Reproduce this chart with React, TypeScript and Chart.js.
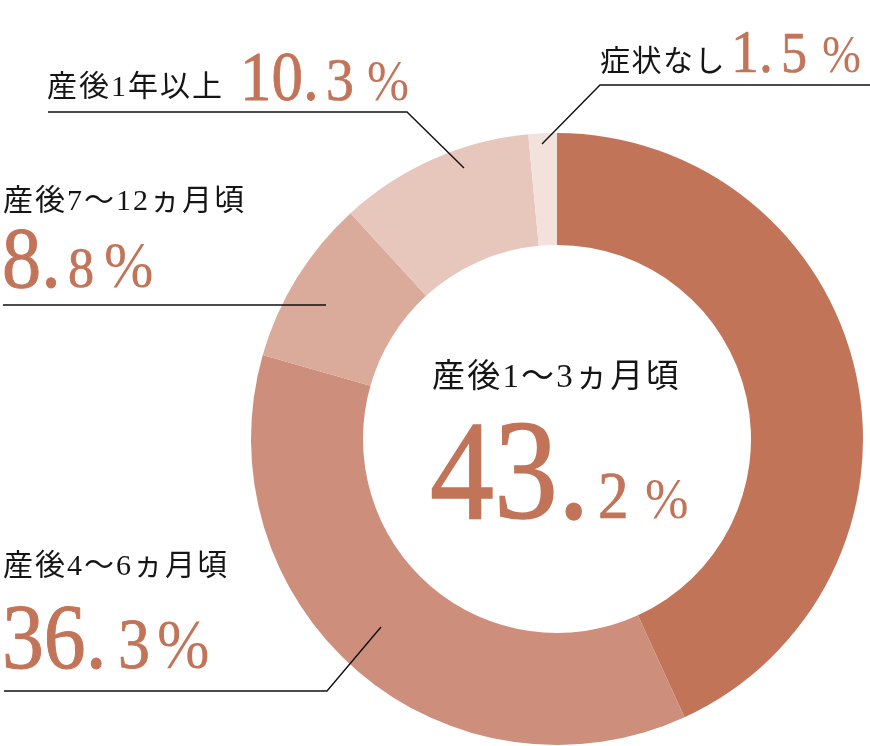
import React, { useEffect, useRef } from "react";
import { Chart, registerables } from "chart.js";

Chart.register(...registerables);

const categories = ["産後1〜3ヵ月頃", "産後4〜6ヵ月頃", "産後7〜12ヵ月頃", "産後1年以上", "症状なし"];
const percentages = [43.2, 36.3, 8.8, 10.3, 1.5];
const sliceColors = ["#c27459", "#cd8e7b", "#daab9b", "#e7c6bb", "#f3e2dc"];

const W = 870;
const H = 746;
const ACCENT = "#c27459";
const INK = "#151515";
const LABEL_FONT = "'Liberation Serif', 'Noto Sans CJK JP', serif";
const NUM_FONT = "'Liberation Serif', serif";

function splitNum(v: number): [string, string] {
  const s = v.toFixed(1);
  const [a, b] = s.split(".");
  return [a + ".", b];
}

type PieceProps = { x: number; y: number; size: number; text: string; sx?: number; thin?: boolean };
function Num({ x, y, size, text, sx = 0.9, thin = false }: PieceProps) {
  return (
    <text
      transform={`translate(${x},${y}) scale(${sx},1)`}
      fontFamily={NUM_FONT}
      fontSize={size}
      fill={ACCENT}
      stroke={thin ? "none" : ACCENT}
      strokeWidth={thin ? 0 : size * 0.011}
    >
      {text}
    </text>
  );
}

function Label({ x, y, size, text, ls = 1.5 }: { x: number; y: number; size: number; text: string; ls?: number }) {
  return (
    <text x={x} y={y} fontFamily={LABEL_FONT} fontSize={size} fill={INK} letterSpacing={ls}>
      {text}
    </text>
  );
}

export default function App() {
  const ref = useRef<HTMLCanvasElement | null>(null);

  useEffect(() => {
    if (!ref.current) return;
    const chart = new Chart(ref.current, {
      type: "doughnut",
      data: {
        labels: categories,
        datasets: [
          {
            data: percentages,
            backgroundColor: sliceColors,
            borderWidth: 0,
          },
        ],
      },
      options: {
        responsive: false,
        animation: false,
        cutout: "63.4%",
        rotation: 0,
        layout: { padding: { left: 251, right: 7, top: 133, bottom: 1 } },
        plugins: { legend: { display: false }, tooltip: { enabled: false } },
      },
    });
    return () => chart.destroy();
  }, []);

  const n0 = splitNum(percentages[0]);
  const n1 = splitNum(percentages[1]);
  const n2 = splitNum(percentages[2]);
  const n3 = splitNum(percentages[3]);
  const n4 = splitNum(percentages[4]);

  return (
    <div style={{ position: "absolute", left: 0, top: 0, width: W, height: H, background: "#fff" }}>
      <canvas ref={ref} width={W} height={H} style={{ position: "absolute", left: 0, top: 0 }} />
      <svg
        width={W}
        height={H}
        style={{ position: "absolute", left: 0, top: 0, pointerEvents: "none" }}
      >
        <g fill="none" stroke="#111" strokeWidth={1.4}>
          <polyline points="48,112 407,112 464,168" />
          <polyline points="3,305 326,305" />
          <polyline points="870,85 600,85 542,144" />
          <polyline points="4,691 327,691 381,627" />
        </g>

        {/* center */}
        <Label x={432} y={387} size={33} text={categories[0]} ls={2.2} />
        <Num x={430} y={518} size={142} text={n0[0]} />
        <Num x={598} y={518} size={68} text={n0[1]} />
        <Num x={645} y={518} size={58} text="%" thin />

        {/* 1年以上 */}
        <Label x={47} y={96} size={30} text={categories[3]} ls={2} />
        <Num x={240} y={100} size={70} text={n3[0]} />
        <Num x={326} y={100} size={62} text={n3[1]} />
        <Num x={367} y={100} size={56} text="%" thin />

        {/* 症状なし */}
        <Label x={600} y={71} size={30} text={categories[4]} />
        <Num x={731} y={72} size={62} text={n4[0]} />
        <Num x={781} y={72} size={58} text={n4[1]} />
        <Num x={822} y={72} size={52} text="%" thin />

        {/* 7〜12 */}
        <Label x={3} y={210} size={30} text={categories[2]} ls={2} />
        <Num x={2} y={287} size={87} text={n2[0]} />
        <Num x={68} y={287} size={58} text={n2[1]} />
        <Num x={104} y={287} size={66} text="%" thin />

        {/* 4〜6 */}
        <Label x={3} y={575} size={30} text={categories[1]} ls={2} />
        <Num x={2} y={668} size={93} text={n1[0]} />
        <Num x={118} y={668} size={71} text={n1[1]} />
        <Num x={157} y={668} size={70} text="%" thin />
      </svg>
    </div>
  );
}
